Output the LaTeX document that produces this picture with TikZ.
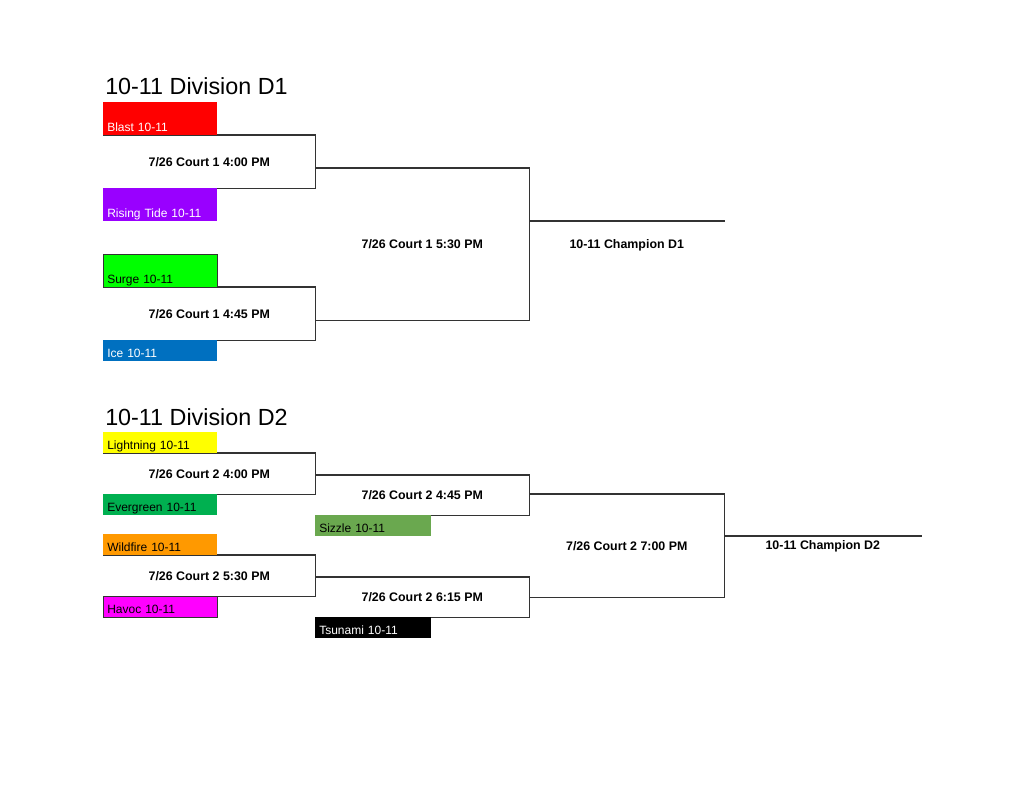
\documentclass[tikz,border=0pt]{standalone}
\usepackage{fontspec}
\setmainfont{Liberation Sans}
\usepackage{tikz}
\usetikzlibrary{positioning}
\definecolor{tmblast}{HTML}{FF0000}
\definecolor{tmtide}{HTML}{9900FF}
\definecolor{tmsurge}{HTML}{00FF00}
\definecolor{tmice}{HTML}{0070C0}
\definecolor{tmlight}{HTML}{FFFF00}
\definecolor{tmever}{HTML}{00B050}
\definecolor{tmsizzle}{HTML}{6AA84F}
\definecolor{tmwild}{HTML}{FF9900}
\definecolor{tmhavoc}{HTML}{FF00FF}
\definecolor{brline}{HTML}{333333}

\begin{document}
\begin{tikzpicture}[x=0.75pt,y=-0.75pt,
  team/.style={anchor=north west,minimum width=85.5pt,text width=79.5pt,inner xsep=3pt,inner ysep=0pt,align=left,text depth=3pt,font=\fontsize{9}{10}\selectfont},
  tall/.style={text height=21.75pt},
  short/.style={text height=12.75pt},
  game/.style={anchor=north west,inner sep=0pt,font=\fontsize{9.3}{11}\selectfont\bfseries},
  bracket/.style={draw=brline,line width=0.8pt},
  divtitle/.style={anchor=base west,inner sep=0pt,font=\fontsize{17.5}{20}\selectfont}]

  \useasboundingbox[fill=white] (0,0) rectangle (1024,791);

  % Division D1
  \node[divtitle] (d1) at (105,95) {10-11 Division D1};

  \node[game,minimum width=159pt,minimum height=39.75pt] (g1) at (103,135) {7/26 Court 1 4:00 PM};
  \node[game,minimum width=159pt,minimum height=39.75pt] (g2) at (103,287) {7/26 Court 1 4:45 PM};
  \node[game,minimum width=160.5pt,minimum height=114pt] (g3) at (315,168) {7/26 Court 1 5:30 PM};
  \node[game,minimum width=146.25pt,minimum height=36pt] (c1) at (529,221) {10-11 Champion D1};

  \draw[bracket] (g1.north west) -- (g1.north east) -- (g1.south east) -- (g1.south west);
  \draw[bracket] (g2.north west) -- (g2.north east) -- (g2.south east) -- (g2.south west);
  \draw[bracket] (g3.north west) -- (g3.north east) -- (g3.south east) -- (g3.south west);
  \draw[bracket] (c1.north west) -- (c1.north east);

  \node[team,tall,fill=tmblast,text=white] (blast) at (103,102) {Blast 10-11};
  \node[team,tall,fill=tmtide,text=white] (tide) at (103,188) {Rising Tide 10-11};
  \node[team,tall,fill=tmsurge,draw=brline] (surge) at (103,254) {Surge 10-11};
  \node[team,short,fill=tmice,text=white] (ice) at (103,340) {Ice 10-11};

  % Division D2
  \node[divtitle] (d2) at (105,426) {10-11 Division D2};

  \node[game,minimum width=159pt,minimum height=30.75pt] (g4) at (103,453) {7/26 Court 2 4:00 PM};
  \node[game,minimum width=159pt,minimum height=30.75pt] (g5) at (103,555) {7/26 Court 2 5:30 PM};
  \node[game,minimum width=160.5pt,minimum height=30pt] (g6) at (315,475) {7/26 Court 2 4:45 PM};
  \node[game,minimum width=160.5pt,minimum height=30pt] (g7) at (315,577) {7/26 Court 2 6:15 PM};
  \node[game,minimum width=146.25pt,minimum height=77.25pt] (g8) at (529,494) {7/26 Court 2 7:00 PM};
  \node[game,minimum width=147.75pt,minimum height=15pt] (c2) at (724,536) {10-11 Champion D2};

  \draw[bracket] (g4.north west) -- (g4.north east) -- (g4.south east) -- (g4.south west);
  \draw[bracket] (g5.north west) -- (g5.north east) -- (g5.south east) -- (g5.south west);
  \draw[bracket] (g6.north west) -- (g6.north east) -- (g6.south east) -- (g6.south west);
  \draw[bracket] (g7.north west) -- (g7.north east) -- (g7.south east) -- (g7.south west);
  \draw[bracket] (g8.north west) -- (g8.north east) -- (g8.south east) -- (g8.south west);
  \draw[bracket] (c2.north west) -- (c2.north east);

  \node[team,short,fill=tmlight] (light) at (103,432) {Lightning 10-11};
  \node[team,short,fill=tmever] (ever) at (103,494) {Evergreen 10-11};
  \node[team,short,fill=tmwild] (wild) at (103,534) {Wildfire 10-11};
  \node[team,short,fill=tmhavoc,draw=brline] (havoc) at (103,596) {Havoc 10-11};
  \node[team,short,fill=tmsizzle,minimum width=87pt,text width=81pt] (sizzle) at (315,515) {Sizzle 10-11};
  \node[team,short,fill=black,text=white,minimum width=87pt,text width=81pt] (tsunami) at (315,617) {Tsunami 10-11};

\end{tikzpicture}
\end{document}
